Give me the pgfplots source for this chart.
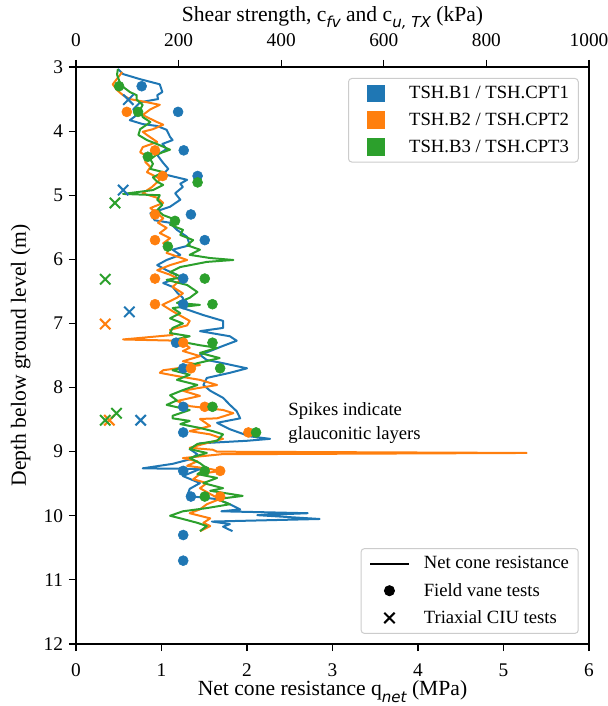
\documentclass[border=0pt]{standalone}
\usepackage{fontspec}
\setmainfont{Liberation Serif}
\newfontfamily\dvs{DejaVu Sans}
\usepackage{pgfplots}
\pgfplotsset{compat=1.18}
\definecolor{c1}{HTML}{1F77B4}
\definecolor{c2}{HTML}{FF7F0E}
\definecolor{c3}{HTML}{2CA02C}
\newcommand{\fs}{\fontsize{14}{18}\selectfont}
\newcommand{\fl}{\fontsize{16.2}{19}\selectfont}
\newcommand{\ft}{\fontsize{14.5}{17}\selectfont}
\newcommand{\sub}[1]{\raisebox{-0.3em}{\fontsize{11.3}{11}\selectfont\dvs\itshape #1}}

\pgfplotsset{
  lgline/.style={legend image code/.code={\draw (0pt,0pt) -- (29pt,0pt);}},
  lgmark/.style={legend image code/.code={\path[draw=none,fill=none] (0pt,0pt) (29pt,0pt); \draw[fill opacity=1] plot coordinates {(14.5pt,0pt)};}},
  lgsq/.style={legend image code/.code={\path[draw=none,fill=none] (0pt,0pt) (29pt,0pt); \fill[sharp corners, fill opacity=1] (8.25pt,-6.25pt) rectangle (20.75pt,6.25pt);}},
  mpl/.style={
    scale only axis, width=384.75pt, height=432.75pt,
    ymin=3, ymax=12, y dir=reverse,
    tick align=outside, major tick length=5.25pt,
    every tick/.style={black, line width=0.9pt},
    axis line style={line width=0.9pt},
    label style={font=\fl}, tick label style={font=\ft},
    /pgf/number format/assume math mode=true,
    /pgf/number format/1000 sep={},
    legend cell align=left,
    legend style={draw=black!20, line width=0.75pt, rounded corners=2.5pt,
      fill=white, fill opacity=0.8, text opacity=1, font=\fs,
      inner xsep=6pt, inner ysep=4pt, row sep=5.2pt,
      nodes={inner xsep=1pt},
      /tikz/every odd column/.append style={column sep=9.5pt}},
  },
  cpt/.style={line width=1.5pt, line join=round, forget plot},
  fv/.style={only marks, mark=*, mark size=3.75pt, forget plot},
  ciu/.style={only marks, mark=x, mark size=5.5pt, line width=1.5pt, forget plot},
}

\begin{document}
\begin{tikzpicture}
\begin{axis}[mpl, name=ax,
  xmin=0, xmax=6, xtick={0,...,6}, ytick={3,...,12},
  xtick pos=bottom, ytick pos=left,
  xticklabel style={yshift=-6pt},
  yticklabel style={xshift=-1pt},
  xlabel={Net cone resistance q\sub{net} (MPa)},
  ylabel={Depth below ground level (m)},
  xlabel style={yshift=3.75pt},
  ylabel style={yshift=3pt},
  legend style={at={(0.98,0.0175)}, anchor=south east}]
% CPT1
\addplot[c1, cpt] table {
q z
0.49 3.03
0.55 3.11
0.75 3.19
0.98 3.27
1.01 3.39
0.95 3.44
0.96 3.50
0.75 3.55
0.67 3.66
0.71 3.75
0.63 3.83
0.78 3.89
0.95 3.92
1.06 3.98
1.10 4.09
1.13 4.14
1.01 4.20
1.06 4.28
0.95 4.37
1.01 4.48
1.08 4.59
1.02 4.67
1.30 4.76
1.22 4.82
1.25 4.87
1.16 4.97
1.22 5.07
1.10 5.18
0.87 5.28
0.92 5.39
1.10 5.43
1.18 5.54
1.30 5.65
1.33 5.78
1.13 5.85
1.22 5.93
1.06 6.01
0.95 6.09
1.06 6.17
1.18 6.24
1.13 6.32
1.02 6.37
1.13 6.43
1.19 6.53
1.25 6.60
1.25 6.76
1.49 6.87
1.72 6.96
1.72 7.07
1.45 7.12
1.80 7.20
1.88 7.27
1.72 7.35
1.57 7.43
1.45 7.49
1.53 7.57
1.72 7.62
2.00 7.70
1.80 7.77
1.53 7.85
1.49 7.96
1.57 8.05
1.72 8.16
1.80 8.27
1.88 8.37
1.92 8.48
1.65 8.55
1.80 8.65
2.03 8.76
2.27 8.80
2.00 8.83
1.45 8.87
1.33 8.96
1.42 9.04
1.33 9.12
1.13 9.19
0.78 9.26
1.45 9.27
1.25 9.38
1.45 9.49
1.33 9.58
1.30 9.69
1.65 9.74
1.80 9.82
1.92 9.90
1.70 9.93
2.71 9.96
2.12 9.99
2.85 10.05
1.59 10.09
1.80 10.13
1.72 10.17
1.83 10.24
};
% CPT2
\addplot[c2, cpt] table {
q z
0.54 3.08
0.43 3.27
0.48 3.36
0.55 3.44
0.63 3.50
0.83 3.55
0.98 3.59
0.87 3.66
0.78 3.75
0.95 3.86
1.02 3.90
0.90 3.97
0.78 4.01
0.83 4.06
0.95 4.17
0.78 4.25
0.75 4.33
0.84 4.40
0.81 4.48
0.87 4.56
0.83 4.64
0.95 4.72
0.98 4.76
0.89 4.87
0.78 4.97
0.95 5.04
1.02 5.12
0.87 5.20
0.95 5.28
1.02 5.36
0.96 5.43
1.06 5.51
0.98 5.59
1.10 5.67
1.02 5.75
1.10 5.82
1.06 5.90
1.30 6.01
1.10 6.09
0.95 6.17
1.10 6.24
1.22 6.32
1.13 6.43
1.25 6.53
1.18 6.60
1.01 6.71
1.13 6.81
1.33 6.96
1.30 7.03
1.10 7.10
1.13 7.18
0.55 7.25
1.22 7.27
1.33 7.38
1.25 7.43
1.45 7.51
1.25 7.59
1.45 7.65
1.02 7.73
0.98 7.77
1.18 7.82
1.45 7.88
1.65 7.96
1.42 8.01
1.25 8.05
1.45 8.13
1.18 8.21
1.33 8.29
1.72 8.35
1.84 8.40
1.65 8.48
1.45 8.49
1.57 8.60
1.33 8.68
1.57 8.73
1.72 8.80
1.49 8.88
1.33 8.94
1.60 8.97
1.65 9.00
5.27 9.02
1.70 9.04
1.25 9.10
1.42 9.15
1.30 9.22
1.57 9.27
1.68 9.30
1.45 9.35
1.37 9.43
1.53 9.49
1.45 9.57
1.57 9.66
1.68 9.74
1.53 9.82
1.45 9.90
1.33 9.96
1.45 10.00
1.57 10.04
1.49 10.11
1.57 10.16
1.45 10.24
};
% CPT3
\addplot[c3, cpt] table {
q z
0.49 3.03
0.48 3.12
0.51 3.23
0.55 3.31
0.63 3.39
0.71 3.44
0.71 3.51
0.78 3.59
0.75 3.67
0.78 3.78
0.87 3.86
0.75 3.97
0.73 4.06
0.83 4.14
0.98 4.22
1.10 4.29
0.95 4.36
0.87 4.44
0.90 4.51
0.87 4.59
1.02 4.64
0.90 4.72
0.95 4.79
1.02 4.84
0.90 4.92
0.55 4.98
0.98 5.00
0.95 5.07
1.01 5.15
0.95 5.23
1.02 5.31
1.18 5.39
1.10 5.46
1.25 5.54
1.22 5.62
1.37 5.70
1.30 5.78
1.45 5.85
1.33 5.93
1.57 5.98
1.84 6.01
1.53 6.04
1.22 6.12
1.10 6.20
1.25 6.28
1.06 6.32
1.30 6.40
1.42 6.51
1.33 6.60
1.18 6.68
1.45 6.71
1.13 6.76
1.22 6.84
1.10 6.92
1.25 7.00
1.13 7.07
1.10 7.15
1.33 7.20
1.13 7.26
1.45 7.34
1.65 7.38
1.45 7.46
1.68 7.54
1.42 7.62
1.13 7.73
1.33 7.80
1.18 7.88
1.42 7.96
1.25 8.04
1.10 8.12
1.18 8.20
1.06 8.27
1.33 8.35
1.13 8.44
1.13 8.48
1.33 8.52
1.22 8.57
1.45 8.63
1.60 8.68
1.72 8.73
1.65 8.83
1.42 8.88
1.33 8.96
1.53 9.02
1.33 9.10
1.45 9.18
1.53 9.26
1.42 9.35
1.65 9.41
1.49 9.49
1.72 9.57
1.57 9.61
1.95 9.69
1.65 9.74
1.80 9.82
1.53 9.88
1.25 9.93
1.10 10.00
1.25 10.05
1.42 10.11
1.53 10.16
1.45 10.24
};
\addlegendimage{black, line width=1.5pt, lgline}
\addlegendentry{Net cone resistance}
\addlegendimage{black, only marks, mark=*, mark size=3.75pt, lgmark}
\addlegendentry{Field vane tests}
\addlegendimage{black, only marks, mark=x, mark size=5.5pt, line width=1.5pt, lgmark}
\addlegendentry{Triaxial CIU tests}
\node[anchor=west, align=left, font=\fs] at (axis cs:2.43,8.55) {Spikes indicate\\glauconitic layers};
\end{axis}

\begin{axis}[mpl,
  xmin=0, xmax=1000, xtick={0,200,...,1000},
  axis x line*=top, hide y axis,
  xticklabel style={yshift=6.75pt},
  xlabel={Shear strength, c\sub{fv} and c\sub{u, TX} (kPa)},
  xlabel style={yshift=-4pt},
  legend style={at={(0.98,0.981)}, anchor=north east}]
% field vane, kPa
\addplot[c1, fv] table {
c z
128 3.3
199 3.7
210 4.3
237 4.7
224 5.3
251 5.7
209 6.3
209 6.7
195 7.3
209 7.7
209 8.3
209 8.7
209 9.3
224 9.7
209 10.3
209 10.7
};
\addplot[c2, fv] table {
c z
99 3.7
154 4.3
169 4.7
154 5.3
154 5.7
154 6.3
154 6.7
209 7.3
224 7.7
251 8.3
336 8.7
281 9.3
281 9.7
};
\addplot[c3, fv] table {
c z
84 3.3
121 3.7
140 4.4
237 4.8
193 5.4
179 5.8
251 6.3
266 6.7
266 7.3
281 7.7
266 8.3
351 8.7
251 9.3
251 9.7
};
% triaxial CIU, kPa
\addplot[c1, ciu] table {
c z
102 3.51
92 4.92
104 6.82
126 8.51
};
\addplot[c2, ciu] table {
c z
57 7.01
65 8.51
};
\addplot[c3, ciu] table {
c z
76 5.12
57 6.31
57 8.51
79 8.40
};
\addlegendimage{c1, lgsq}
\addlegendentry{TSH.B1 / TSH.CPT1}
\addlegendimage{c2, lgsq}
\addlegendentry{TSH.B2 / TSH.CPT2}
\addlegendimage{c3, lgsq}
\addlegendentry{TSH.B3 / TSH.CPT3}
\end{axis}
\pgfresetboundingbox
\path[use as bounding box] ([xshift=-57pt,yshift=-46.5pt]ax.south west) rectangle ([xshift=13.5pt,yshift=50.25pt]ax.north east);
\end{tikzpicture}
\end{document}
